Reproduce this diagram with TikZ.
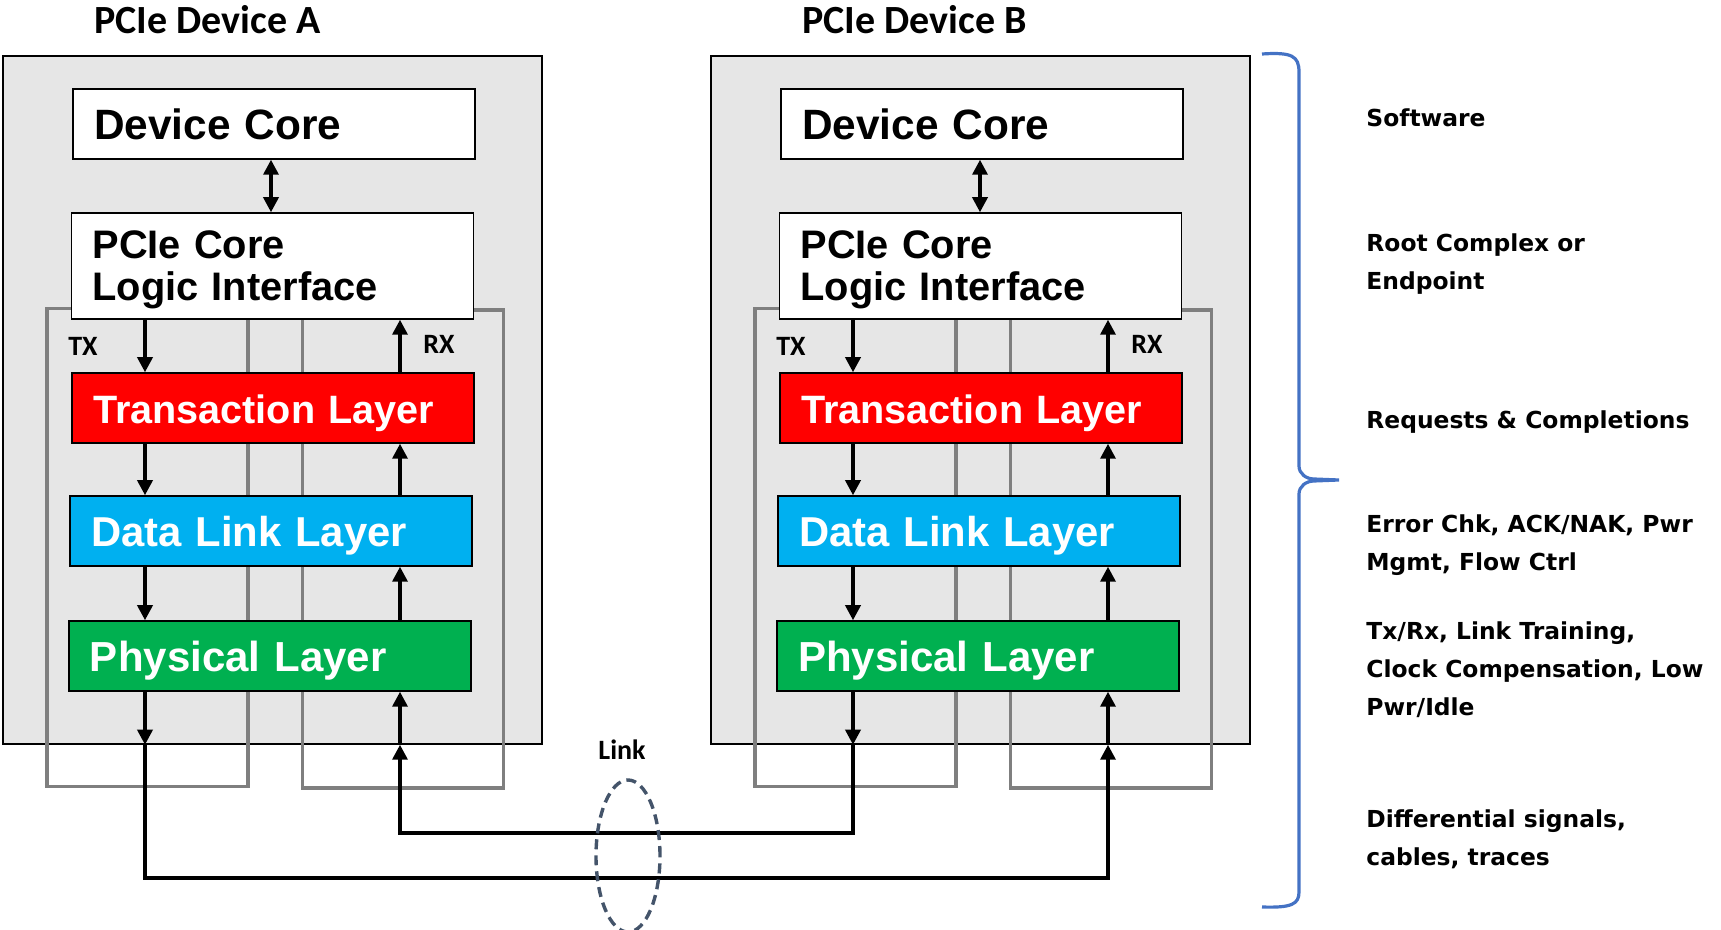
\documentclass[tikz,border=0pt]{standalone}
\usepackage{fontspec}
\usepackage{tikz}
\usetikzlibrary{arrows.meta, positioning, shapes.geometric}
\newfontfamily\arialfont{Liberation Sans}
\newfontfamily\calibrifont{Carlito}
\newfontfamily\verdanafont{DejaVu Sans}
\definecolor{devgray}{RGB}{230, 230, 230}
\definecolor{lanegray}{RGB}{127, 127, 127}
\definecolor{tlred}{RGB}{255, 0, 0}
\definecolor{dlblue}{RGB}{0, 176, 240}
\definecolor{phgreen}{RGB}{0, 176, 80}
\definecolor{linkslate}{RGB}{68, 84, 106}
\definecolor{braceblue}{RGB}{68, 114, 196}
\newcommand{\boxfont}[1]{\arialfont\bfseries\fontsize{#1}{21.1}\selectfont}
\tikzset{
    devbox/.style ={draw=black, line width=0.75pt, fill=devgray,
                    minimum width=269.5pt, minimum height=344pt},
    laybox/.style ={draw=black, line width=0.75pt, fill=white,
                    minimum width=201pt, minimum height=35pt,
                    inner xsep=10.5pt, inner ysep=0pt, text width=180pt, align=left,
                    text height=16pt, text depth=0pt},
    twoline/.style={minimum height=53pt, text depth=23.9pt},
    tlbox/.style  ={laybox, fill=tlred, text=white, font=\boxfont{19.8}},
    dlbox/.style  ={laybox, fill=dlblue, text=white, font=\boxfont{20.9}},
    phbox/.style  ={laybox, fill=phgreen, text=white, font=\boxfont{21}},
    lanebox/.style={draw=lanegray, line width=1.9pt,
                    minimum width=100.5pt, minimum height=239pt},
    ar/.style     ={-{Triangle[length=7.5pt, width=7.5pt]}, line width=1.7pt},
    dar/.style    ={{Triangle[length=7.5pt, width=7.5pt]}-{Triangle[length=7.5pt, width=7.5pt]},
                    line width=1.7pt},
    lbl/.style    ={font=\calibrifont\bfseries\fontsize{14}{16}\selectfont, inner sep=0pt},
    ttl/.style    ={font=\calibrifont\bfseries\fontsize{20}{24}\selectfont, inner sep=0pt, anchor=west},
    note/.style   ={font=\verdanafont\bfseries\fontsize{11.7}{19}\selectfont, inner sep=0pt,
                    anchor=west, align=left},
    ring/.style   ={draw=linkslate, line width=1.7pt, dash pattern=on 5pt off 3pt,
                    ellipse, minimum width=32pt, minimum height=76pt, inner sep=0pt}
}

\begin{document}
\begin{tikzpicture}[x=0.5pt, y=-0.5pt]
  \useasboundingbox (0,0) rectangle (1721,930);

  % device A
  \node[ttl] (ttlA) at (94,20) {PCIe Device A};
  \node[devbox] (devA) at (272.5,400) {};
  \node[lanebox] (txA) at (147.5,547.5) {};
  \node[lanebox] (rxA) at (403,549) {};
  \node[laybox, font=\boxfont{21.2}] (coreA) at (274,124) {Device Core};
  \node[laybox, twoline, font=\boxfont{19.9}] (pcieA) at (272.5,266) {PCIe Core\\Logic Interface};
  \node[tlbox] (tlA) at (273,408) {Transaction Layer};
  \node[dlbox] (dlA) at (271,531) {Data Link Layer};
  \node[phbox] (phA) at (270,656) {Physical Layer};
  \node[lbl] (txlA) at (83,346) {TX};
  \node[lbl] (rxlA) at (439,344) {RX};
  \coordinate (txwA) at (145,0);
  \coordinate (rxwA) at (400,0);

  % device B
  \node[ttl] (ttlB) at (802,20) {PCIe Device B};
  \node[devbox] (devB) at (980.5,400) {};
  \node[lanebox] (txB) at (855.5,547.5) {};
  \node[lanebox] (rxB) at (1111,549) {};
  \node[laybox, font=\boxfont{21.2}] (coreB) at (982,124) {Device Core};
  \node[laybox, twoline, font=\boxfont{19.9}] (pcieB) at (980.5,266) {PCIe Core\\Logic Interface};
  \node[tlbox] (tlB) at (981,408) {Transaction Layer};
  \node[dlbox] (dlB) at (979,531) {Data Link Layer};
  \node[phbox] (phB) at (978,656) {Physical Layer};
  \node[lbl] (txlB) at (791,346) {TX};
  \node[lbl] (rxlB) at (1147,344) {RX};
  \coordinate (txwB) at (853,0);
  \coordinate (rxwB) at (1108,0);

  % stacks
  \draw[dar] (coreA.south -| 271,0) -- (pcieA.north -| 271,0);
  \draw[ar] (pcieA.south -| txwA) -- (tlA.north -| txwA);
  \draw[ar] (tlA.south -| txwA) -- (dlA.north -| txwA);
  \draw[ar] (dlA.south -| txwA) -- (phA.north -| txwA);
  \draw[ar] (phA.south -| txwA) -- (devA.south -| txwA);
  \draw[ar] (devA.south -| rxwA) -- (phA.south -| rxwA);
  \draw[ar] (phA.north -| rxwA) -- (dlA.south -| rxwA);
  \draw[ar] (dlA.north -| rxwA) -- (tlA.south -| rxwA);
  \draw[ar] (tlA.north -| rxwA) -- (pcieA.south -| rxwA);

  \draw[dar] (coreB.south -| 980,0) -- (pcieB.north -| 980,0);
  \draw[ar] (pcieB.south -| txwB) -- (tlB.north -| txwB);
  \draw[ar] (tlB.south -| txwB) -- (dlB.north -| txwB);
  \draw[ar] (dlB.south -| txwB) -- (phB.north -| txwB);
  \draw[ar] (phB.south -| txwB) -- (devB.south -| txwB);
  \draw[ar] (devB.south -| rxwB) -- (phB.south -| rxwB);
  \draw[ar] (phB.north -| rxwB) -- (dlB.south -| rxwB);
  \draw[ar] (dlB.north -| rxwB) -- (tlB.south -| rxwB);
  \draw[ar] (tlB.north -| rxwB) -- (pcieB.south -| rxwB);

  % link
  \coordinate (wireBA) at (0,833);
  \coordinate (wireAB) at (0,878);
  \draw[ar] (devA.south -| txwA) |- (wireAB -| rxwB) -- (devB.south -| rxwB);
  \draw[ar] (devB.south -| txwB) |- (wireBA -| rxwA) -- (devA.south -| rxwA);
  \node[ring] (link) at (628,856) {};
  \node[lbl] (linklbl) at (622,750) {Link};

  % brace and notes
  \draw[braceblue, line width=1.6pt]
    (1262,54) .. controls (1292,52) and (1299,56) .. (1299,72) -- (1299,466)
    to[out=-90, in=180] (1314,479) -- (1339,480) -- (1314,481)
    to[out=180, in=90] (1299,494) -- (1299,892)
    .. controls (1299,904) and (1292,908) .. (1262,907);
  \node[note] (nSw)   at (1366,118) {Software};
  \node[note] (nRc)   at (1366,264) {Root Complex or\\Endpoint};
  \node[note] (nReq)  at (1366,422) {Requests \& Completions};
  \node[note] (nErr)  at (1366,545.5) {Error Chk, ACK/NAK, Pwr\\Mgmt, Flow Ctrl};
  \node[note] (nPhy)  at (1366,670) {Tx/Rx, Link Training,\\Clock Compensation, Low\\Pwr/Idle};
  \node[note] (nDiff) at (1366,839) {Differential signals,\\cables, traces};
\end{tikzpicture}
\end{document}
